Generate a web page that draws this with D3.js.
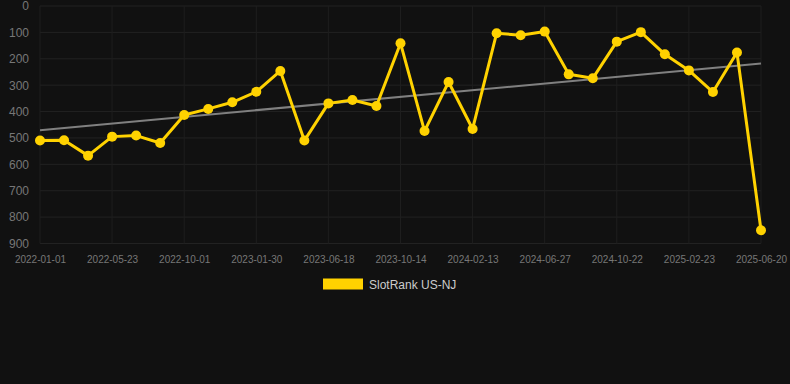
<!DOCTYPE html>
<html>
<head>
<meta charset="utf-8">
<script src="https://cdn.jsdelivr.net/npm/d3@7"></script>
<style>
  html, body { margin: 0; padding: 0; background: #111111; }
  svg { display: block; font-family: "Liberation Sans", Arial, sans-serif; }
</style>
</head>
<body>
<script>
// ranks, one per sample (category axis, every 3rd one labelled)
var dates = [
  "2022-01-01", "", "", "2022-05-23", "", "", "2022-10-01", "", "", "2023-01-30",
  "", "", "2023-06-18", "", "", "2023-10-14", "", "", "2024-02-13", "",
  "", "2024-06-27", "", "", "2024-10-22", "", "", "2025-02-23", "", "",
  "2025-06-20"
];
var ranks = [
  510, 509, 567, 495, 491, 519, 413, 390, 365, 325,
  246, 510, 369, 356, 379, 141, 474, 288, 466, 103,
  111, 97, 259, 274, 135, 99, 183, 244, 326, 176,
  850
];
var yTicks = [0, 100, 200, 300, 400, 500, 600, 700, 800, 900];
var seriesName = "SlotRank US-NJ";

var W = 790, H = 384;
var plotL = 40, plotR = 761, plotT = 6, plotB = 243.5;

var svg = d3.select("body").append("svg")
  .attr("width", W)
  .attr("height", H);

svg.append("rect").attr("width", W).attr("height", H).attr("fill", "#111111");

var idx = d3.range(ranks.length);
var x = d3.scalePoint().domain(idx).range([plotL, plotR]);
var y = d3.scaleLinear().domain([0, 900]).range([plotT, plotB]);

// horizontal grid
svg.append("g").selectAll("line")
  .data(yTicks)
  .enter().append("line")
  .attr("x1", plotL).attr("x2", plotR)
  .attr("y1", function(d) { return y(d); })
  .attr("y2", function(d) { return y(d); })
  .attr("stroke", "#222222").attr("stroke-width", 1);

// vertical grid at labelled points
var labelled = idx.filter(function(i) { return dates[i] !== ""; });
svg.append("g").selectAll("line")
  .data(labelled)
  .enter().append("line")
  .attr("x1", function(i) { return x(i); })
  .attr("x2", function(i) { return x(i); })
  .attr("y1", plotT).attr("y2", plotB)
  .attr("stroke", "#1e1e1e").attr("stroke-width", 1);

// y labels
var yAxis = d3.axisLeft(y).tickValues(yTicks).tickSize(0).tickPadding(0);
var gy = svg.append("g").attr("transform", "translate(29,0)").call(yAxis);
gy.select(".domain").remove();
gy.selectAll("text")
  .attr("fill", "#777777")
  .style("font-size", "12px")
  .style("font-family", "Liberation Sans, Arial, sans-serif");

// x labels
var xAxis = d3.axisBottom(x).tickValues(labelled)
  .tickFormat(function(i) { return dates[i]; })
  .tickSize(0).tickPadding(0);
var gx = svg.append("g").attr("transform", "translate(0,256)").call(xAxis);
gx.select(".domain").remove();
gx.selectAll("text")
  .attr("fill", "#777777")
  .style("font-size", "10px")
  .style("font-family", "Liberation Sans, Arial, sans-serif");

// trend line (least squares over the ranks)
var mx = d3.mean(idx), my = d3.mean(ranks);
var sxy = d3.sum(idx, function(i) { return (i - mx) * (ranks[i] - my); });
var sxx = d3.sum(idx, function(i) { return (i - mx) * (i - mx); });
var slope = sxy / sxx, icpt = my - slope * mx;
var ends = [0, ranks.length - 1];
svg.append("path")
  .datum(ends)
  .attr("d", d3.line()
    .x(function(i) { return x(i); })
    .y(function(i) { return y(icpt + slope * i); }))
  .attr("fill", "none")
  .attr("stroke", "#808080")
  .attr("stroke-width", 2);

// series
svg.append("path")
  .datum(idx)
  .attr("d", d3.line()
    .x(function(i) { return x(i); })
    .y(function(i) { return y(ranks[i]); }))
  .attr("fill", "none")
  .attr("stroke", "#FFD200")
  .attr("stroke-width", 3)
  .attr("stroke-linejoin", "round");

svg.append("g").selectAll("circle")
  .data(idx)
  .enter().append("circle")
  .attr("cx", function(i) { return x(i); })
  .attr("cy", function(i) { return y(ranks[i]); })
  .attr("r", 5)
  .attr("fill", "#FFD200");

// legend
var lg = svg.append("g");
lg.append("rect")
  .attr("x", 323).attr("y", 278.5)
  .attr("width", 40).attr("height", 11)
  .attr("fill", "#FFD200");
lg.append("text")
  .attr("x", 369).attr("y", 288.5)
  .attr("fill", "#cccccc")
  .style("font-size", "12px")
  .text(seriesName);
</script>
</body>
</html>
